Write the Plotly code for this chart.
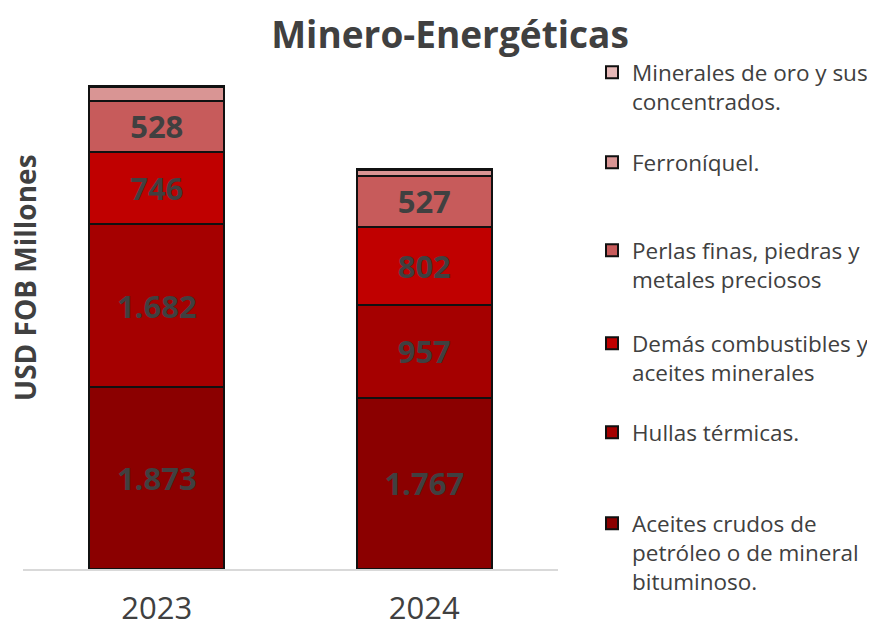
import plotly.graph_objects as go

# datos (USD FOB millones)
years = ["2023", "2024"]
crudos = [1873, 1767]
hullas = [1682, 957]
combustibles = [746, 802]
perlas = [528, 527]
ferroniquel = [135, 60]
oro = [20, 15]

series = [
    ("Aceites crudos de<br>petróleo o de mineral<br>bituminoso.", crudos, "#8B0000", True),
    ("Hullas térmicas.", hullas, "#A50000", True),
    ("Demás combustibles y<br>aceites minerales", combustibles, "#C00000", True),
    ("Perlas finas, piedras y<br>metales preciosos", perlas, "#C75B5B", True),
    ("Ferroníquel.", ferroniquel, "#D99594", False),
    ("Minerales de oro y sus<br>concentrados.", oro, "#E6B8B7", False),
]

# centro de la primera linea de cada leyenda (px), de abajo hacia arriba
legend_y = [523, 432, 343, 250, 162, 72]

OFF = 8  # margen del body en la pagina

fig = go.Figure()
for i, (name, vals, color, show_text) in enumerate(series):
    fig.add_trace(go.Bar(
        x=years, y=vals, name=name,
        marker=dict(color=color, line=dict(color="#111111", width=2)),
        texttemplate="%{y:,.0f}" if show_text else "",
        textposition="inside" if show_text else "none",
        insidetextanchor="middle",
        textfont=dict(size=31, color="#404040", family="Open Sans", weight="bold"),
        constraintext="none",
        legend=f"legend{i + 2}",
        showlegend=True,
    ))

layout_legends = {}
for i, yc in enumerate(legend_y):
    layout_legends[f"legend{i + 2}"] = dict(
        xref="container", yref="container",
        x=584 / 875, y=1 - (yc - OFF - 21) / 628,
        xanchor="left", yanchor="top",
        bgcolor="rgba(0,0,0,0)",
        font=dict(size=22.5, color="#404040", family="Open Sans"),
        valign="top", itemwidth=30,
    )

fig.update_layout(
    width=875, height=628,
    showlegend=True,
    barmode="stack", bargap=0.495,
    separators=",.",
    plot_bgcolor="white", paper_bgcolor="white",
    margin=dict(l=23 - OFF, r=325, t=84 - OFF, b=67, autoexpand=False),
    title=dict(text="<b>Minero-Energéticas</b>", x=(450 - OFF) / 875, xanchor="center",
               y=1 - (35 - OFF) / 628, yanchor="middle",
               font=dict(size=37, color="#404040", family="Open Sans")),
    font=dict(family="Open Sans", color="#404040"),
    xaxis=dict(showline=True, linecolor="#d9d9d9", linewidth=1.5, automargin=False,
               ticks="outside", ticklen=11, tickcolor="rgba(0,0,0,0)",
               tickfont=dict(size=31, color="#404040")),
    yaxis=dict(range=[0, 5000], visible=False),
    annotations=[dict(text="<b>USD FOB Millones</b>", textangle=-90,
                      xref="paper", yref="paper", x=2 / 535, y=0.6,
                      xanchor="center", yanchor="middle", showarrow=False,
                      font=dict(size=28, color="#404040"))],
    **layout_legends,
)

fig.write_html("out.html")
